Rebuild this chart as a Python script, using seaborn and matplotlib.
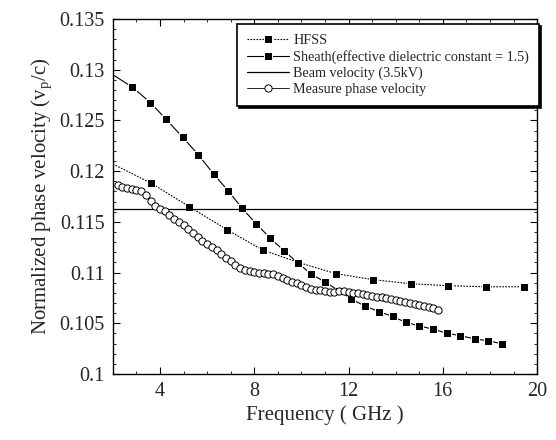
import numpy as np
import pandas as pd
import matplotlib
matplotlib.use('Agg')
import matplotlib.pyplot as plt
from matplotlib.ticker import MultipleLocator
import seaborn as sns

sns.set_style("ticks")
plt.rcParams['font.family'] = ['Liberation Serif', 'DejaVu Serif']
plt.rcParams['mathtext.fontset'] = 'custom'
plt.rcParams['mathtext.rm'] = 'Liberation Serif'

# HFSS simulation (first point is where the curve meets the axis, no marker)
hfss_freq = [2.0, 3.63, 5.24, 6.86, 8.37, 9.87, 11.45, 13.03, 14.63, 16.23, 17.84, 19.45]
hfss_vel = [0.1207, 0.1188, 0.1165, 0.1142, 0.1122, 0.1110, 0.1099, 0.1093,
            0.1089, 0.1087, 0.1086, 0.1086]

# sheath model (first point without marker)
sheath_freq = [2.0, 2.83, 3.59, 4.26, 4.96, 5.63, 6.27, 6.90, 7.49, 8.09, 8.68,
               9.27, 9.87, 10.41, 11.00, 11.59, 12.12, 12.69, 13.28, 13.87,
               14.42, 15.01, 15.60, 16.19, 16.74, 17.37, 17.92, 18.53]
sheath_vel = [0.1295, 0.12827, 0.12675, 0.12511, 0.12334, 0.12160, 0.11972,
              0.11804, 0.11632, 0.11479, 0.11338, 0.11213, 0.11091, 0.10986,
              0.10907, 0.10821, 0.10739, 0.10670, 0.10616, 0.10567, 0.10510,
              0.10473, 0.10441, 0.10401, 0.10378, 0.10345, 0.10328, 0.10296]

beam_velocity = 0.1163

meas_freq = [2.2, 2.4, 2.6, 2.8, 3.0, 3.2, 3.4, 3.6, 3.8, 4.0, 4.2, 4.4, 4.6, 4.8,
             5.0, 5.2, 5.4, 5.6, 5.8, 6.0, 6.2, 6.4, 6.6, 6.8, 7.0, 7.2, 7.4, 7.6,
             7.8, 8.0, 8.2, 8.4, 8.6, 8.8, 9.0, 9.2, 9.4, 9.6, 9.8, 10.0, 10.2,
             10.4, 10.6, 10.8, 11.0, 11.2, 11.4, 11.6, 11.8, 12.0, 12.2, 12.4,
             12.6, 12.8, 13.0, 13.2, 13.4, 13.6, 13.8, 14.0, 14.2, 14.4, 14.6,
             14.8, 15.0, 15.2, 15.4, 15.6, 15.8]
meas_vel = [0.1186, 0.1184, 0.1183, 0.1182, 0.1181, 0.1180, 0.1176, 0.1171,
            0.1166, 0.1163, 0.1161, 0.1157, 0.1153, 0.1150, 0.1147, 0.1143,
            0.1139, 0.1135, 0.1131, 0.1128, 0.1125, 0.1122, 0.1118, 0.1114,
            0.1111, 0.1107, 0.1104, 0.1103, 0.1102, 0.1101, 0.1100, 0.1100,
            0.1099, 0.1099, 0.1097, 0.1095, 0.1093, 0.1091, 0.1090, 0.1088,
            0.1086, 0.1084, 0.1083, 0.1083, 0.1082, 0.1081, 0.1081, 0.1082,
            0.1082, 0.1081, 0.1080, 0.1080, 0.1079, 0.1078, 0.1077, 0.1076,
            0.1076, 0.1075, 0.1074, 0.1073, 0.1072, 0.1071, 0.1070, 0.1069,
            0.1068, 0.1067, 0.1066, 0.1065, 0.1063]

fig = plt.figure(figsize=(5.56, 4.4), dpi=100)
ax = fig.add_axes([0.203, 0.150, 0.763, 0.807])

sns.lineplot(x=hfss_freq, y=hfss_vel, ax=ax, color='black', lw=0.8,
             linestyle=(0, (1.5, 1.2)), marker='s', markersize=6.3,
             markevery=list(range(1, len(hfss_freq))), label='HFSS')
sns.lineplot(x=sheath_freq, y=sheath_vel, ax=ax, color='black', lw=0.8,
             marker='s', markersize=6.3, markevery=list(range(1, len(sheath_freq))),
             label='Sheath(effective dielectric constant = 1.5)')
ax.axhline(beam_velocity, color='black', lw=0.9, label='Beam velocity (3.5kV)')
sns.lineplot(x=meas_freq, y=meas_vel, ax=ax, color='black', lw=0.6,
             marker='o', markersize=5.2, markerfacecolor='white',
             markeredgecolor='black', markeredgewidth=0.7,
             label='Measure phase velocity')

ax.set_xlim(2, 20)
ax.set_ylim(0.1, 0.135)
ax.xaxis.set_major_locator(MultipleLocator(4))
ax.xaxis.set_minor_locator(MultipleLocator(1))
ax.yaxis.set_minor_locator(MultipleLocator(0.001))
ax.set_yticks([0.1, 0.105, 0.11, 0.115, 0.12, 0.125, 0.13, 0.135])
ax.set_yticklabels(['0.1', '0.105', '0.11', '0.115', '0.12', '0.125', '0.13', '0.135'])
ax.tick_params(which='both', direction='in', top=True, right=True,
               labelsize=14.5, color='black')
ax.tick_params(which='major', length=5, pad=6)
ax.tick_params(which='minor', length=2.5)
for s in ax.spines.values():
    s.set_linewidth(1.0)
    s.set_color('black')

ax.set_xlabel('Frequency ( GHz )', fontsize=15, labelpad=3)
ax.set_ylabel(r'Normalized phase velocity (v$_\mathregular{p}$/c)', fontsize=15, labelpad=3)

leg = ax.legend(loc='upper right', bbox_to_anchor=(1.005, 0.985), fontsize=10.2,
                frameon=True, fancybox=False, edgecolor='black', framealpha=1,
                handlelength=3.0, handletextpad=0.3, labelspacing=0.2,
                borderpad=0.7, borderaxespad=0.0,
                shadow={'color': 'black', 'alpha': 1, 'ox': 1.5, 'oy': -1.5})
leg.get_frame().set_linewidth(1.2)

fig.savefig('out.png', dpi=100)
